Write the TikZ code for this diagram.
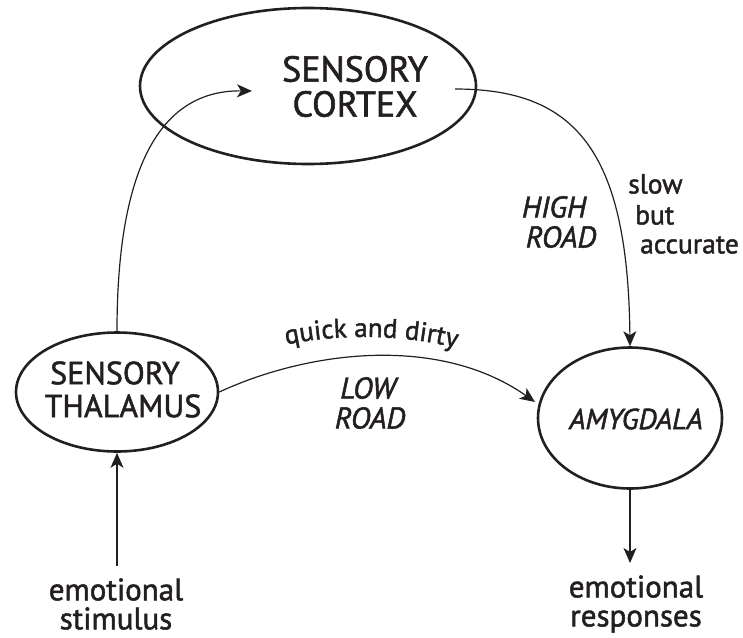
\documentclass[tikz,border=0pt]{standalone}
\usepackage{fontspec}
\setmainfont{PT Sans}[RawFeature={embolden=1.6}]
\newfontfamily\itfont{PT Sans Italic}[RawFeature={embolden=1.6}]
\usetikzlibrary{shapes.geometric,arrows.meta,decorations.text}
\definecolor{ink}{HTML}{231F20}
\newcommand{\fsz}[2]{\fontsize{#1}{#2}\selectfont}
\tikzset{
  brain/.style={ellipse, draw=ink, line width=2.6pt, inner sep=0pt},
  conn/.style={draw=ink, line width=1.2pt, -{Stealth[length=15pt,width=13pt,inset=4pt]}},
  lab/.style={text=ink, inner sep=0pt, align=center},
}
\begin{document}
\begin{tikzpicture}[x=1pt,y=-1pt]
\useasboundingbox (0,0) rectangle (743,637);
% regions
\node[brain, minimum width=336pt, minimum height=156pt] (cortex) at (308,86) {};
\node[brain, minimum width=202pt, minimum height=119pt] (thal) at (117,392) {};
\node[brain, minimum width=184pt, minimum height=141pt] (amyg) at (630,418) {};
% region texts
\node[lab, font=\fsz{36}{36}] (ctxt1) at (355,69) {SENSORY};
\node[lab, font=\fsz{36}{36}] (ctxt2) at (355,104) {CORTEX};
\node[lab, font=\fsz{32}{32}] (tht1) at (115,373) {SENSORY};
\node[lab, font=\fsz{32}{32}] (tht2) at (123,406) {THALAMUS};
\node[lab, font=\itfont\fsz{29}{29}] (amt) at (636,419) {AMYGDALA};
% free ends
\coordinate (ctxin) at (252,91);
\coordinate (ctxout) at (455,89);
\coordinate (amin) at (535,402);
% texts
\node[lab, font=\fsz{31}{29}] (stim) at (116,604) {emotional\\stimulus};
\node[lab, font=\fsz{31}{29}] (resp) at (636,604) {emotional\\responses};
\node[lab, font=\itfont\fsz{30}{30}] (low1) at (368,388) {LOW};
\node[lab, font=\itfont\fsz{30}{30}] (low2) at (370,418) {ROAD};
\node[lab, font=\itfont\fsz{30}{30}] (high1) at (554,207) {HIGH};
\node[lab, font=\itfont\fsz{30}{30}] (high2) at (561,237) {ROAD};
\node[lab, font=\fsz{27.5}{27.5}, anchor=west] (slow) at (628,184) {slow};
\node[lab, font=\fsz{27.5}{27.5}, anchor=west] (but) at (635,215) {but};
\node[lab, font=\fsz{27.5}{27.5}, anchor=west] (acc) at (640,245) {accurate};
\path[decorate, decoration={text along path, text align=center,
  text={|\fsz{27}{27}\color{ink}|quick and dirty}}]
  (276,347) .. controls (330,333) and (410,333) .. (466,351);
% connectors
\draw[conn] (thal.north) .. controls (117,150) and (170,90) .. (ctxin);
\draw[conn] (ctxout) .. controls (575,89) and (628,150) .. (amyg.north);
\draw[conn] (thal.east) .. controls (310,350) and (440,335) .. (amin);
\draw[conn] (thal.south |- 0,566) -- (thal.south);
\draw[conn] (amyg.south) -- (amyg.south |- 0,563);
\end{tikzpicture}
\end{document}
